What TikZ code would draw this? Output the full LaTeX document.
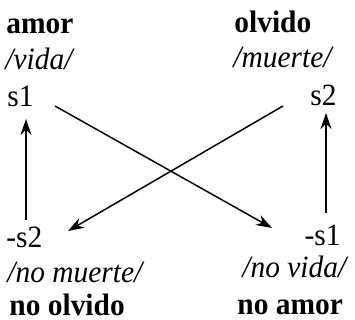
\documentclass[tikz,border=0pt]{standalone}
\usepackage{fontspec}
\setmainfont{Liberation Serif}[FakeStretch=0.95]
\usetikzlibrary{arrows.meta}
\begin{document}
\begin{tikzpicture}[x=0.5pt,y=-0.5pt,
  lbl/.style={inner sep=0pt,font=\fontsize{15.5}{18}\selectfont},
  blbl/.style={lbl,font=\fontsize{15.5}{18}\selectfont\bfseries},
  ilbl/.style={lbl,font=\fontsize{15.5}{18}\selectfont\itshape},
  arr/.style={line width=0.75pt,-{Stealth[length=8pt,width=5.5pt]}}]
\useasboundingbox (0,0) rectangle (355,320);
% left column
\node[blbl,anchor=base west] (amor) at (6,34) {amor};
\node[ilbl,anchor=base west] (vida) at (5,70) {/vida/};
\node[lbl,anchor=base west] (s1) at (7,107) {s1};
\node[lbl,anchor=base west] (ms2) at (6,248) {-s2};
\node[ilbl,anchor=base west] (nomuerte) at (7,283) {/no muerte/};
\node[blbl,anchor=base west] (noolvido) at (9,316) {no olvido};
% right column
\node[blbl,anchor=base west] (olvido) at (234,33) {olvido};
\node[ilbl,anchor=base west] (muerte) at (233,68) {/muerte/};
\node[lbl,anchor=base east] (s2) at (337,106) {s2};
\node[lbl,anchor=base east] (ms1) at (341,246) {-s1};
\node[ilbl,anchor=base west] (novida) at (242,278) {/no vida/};
\node[blbl,anchor=base west] (noamor) at (237,315) {no amor};
% connector ends
\coordinate (a1) at (55,106);
\coordinate (a2) at (272,228);
\coordinate (b1) at (283,106);
\coordinate (b2) at (68,231);
\coordinate (c1) at (26,220);
\coordinate (c2) at (26,119);
\coordinate (d1) at (326,213);
\coordinate (d2) at (326,113);
\draw[arr] (a1) -- (a2);
\draw[arr] (b1) -- (b2);
\draw[arr] (c1) -- (c2);
\draw[arr] (d1) -- (d2);
\end{tikzpicture}
\end{document}
